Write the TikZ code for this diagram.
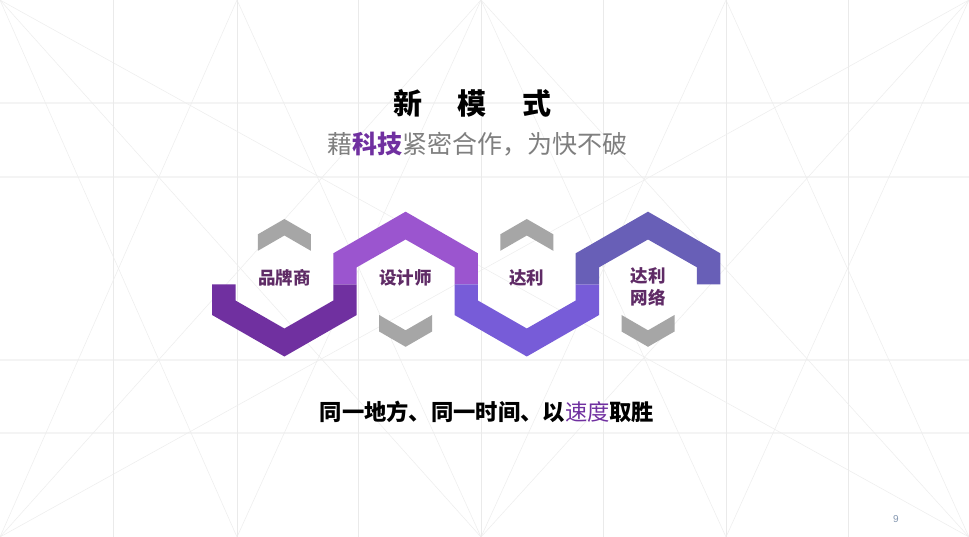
\documentclass[tikz,border=0pt]{standalone}
\usepackage{fontspec}
\setmainfont{Noto Sans CJK SC}
\newfontfamily\latinfont{Liberation Sans}
\definecolor{purpA}{HTML}{7030A0}
\definecolor{purpB}{HTML}{9B55CF}
\definecolor{purpC}{HTML}{775CD8}
\definecolor{purpD}{HTML}{685FB7}
\definecolor{chev}{HTML}{A6A6A6}
\definecolor{lbl}{HTML}{5F2B66}
\definecolor{subgray}{HTML}{7F7F7F}
\definecolor{vline}{HTML}{EAEAEA}
\definecolor{hline}{HTML}{F4F4F4}
\definecolor{dline}{HTML}{EDEDED}
\definecolor{pagenum}{HTML}{8497B0}
\tikzset{
  bgv/.style={draw=vline, line width=0.6pt},
  bgh/.style={draw=hline, line width=1.6pt},
  bgd/.style={draw=dline, line width=0.5pt},
  chevron/.style={fill=chev, draw=none},
  lab/.style={text=lbl, font=\fontsize{17.5pt}{22pt}\selectfont\bfseries, align=center, inner sep=0pt},
}
\begin{document}
\begin{tikzpicture}[x=1pt,y=-1pt]
\useasboundingbox (0,0) rectangle (969,537);
\fill[white] (0,0) rectangle (969,537);
% background grid
\foreach \y in {103,177,360,433} \draw[bgh] (0,\y) -- (969,\y);
\foreach \x in {113,237,358,481,603,726,848} \draw[bgv] (\x,0) -- (\x,537);
\foreach \a/\b in {0/237,237/0,237/481,481/237,481/726,726/481,726/969,969/726,0/481,481/0,481/969,969/481,0/969,969/0}
  \draw[bgd] (\a,0) -- (\b,537);
% snake bands
\fill[purpA] (212.1,284.3) -- (212.1,315) -- (284.4,356.5) -- (356.7,315) -- (356.7,284.3) -- (333.3,284.3) -- (333.3,300.5) -- (284.4,328.5) -- (235.5,300.5) -- (235.5,284.3) -- cycle;
\fill[purpB] (333.3,284.3) -- (333.3,253.3) -- (405.6,211.7) -- (477.9,253.3) -- (477.9,284.3) -- (454.5,284.3) -- (454.5,267.3) -- (405.6,239.5) -- (356.7,267.3) -- (356.7,284.3) -- cycle;
\fill[purpC] (454.5,284.3) -- (454.5,315) -- (526.8,356.5) -- (599.1,315) -- (599.1,284.3) -- (575.7,284.3) -- (575.7,300.5) -- (526.8,328.5) -- (477.9,300.5) -- (477.9,284.3) -- cycle;
\fill[purpD] (575.7,284.3) -- (575.7,253.3) -- (648.0,211.7) -- (720.3,253.3) -- (720.3,284.3) -- (696.9,284.3) -- (696.9,267.3) -- (648.0,239.5) -- (599.1,267.3) -- (599.1,284.3) -- cycle;
% chevrons
\foreach \c in {284.4,526.8}
  \fill[chevron] (\c-26.5,250.8) -- (\c-26.5,234.3) -- (\c,219) -- (\c+26.5,234.3) -- (\c+26.5,250.8) -- (\c,235.5) -- cycle;
\foreach \c in {405.6,648.0}
  \fill[chevron] (\c-26.5,315) -- (\c-26.5,331.5) -- (\c,346.8) -- (\c+26.5,331.5) -- (\c+26.5,315) -- (\c,330.3) -- cycle;
% labels
\node[lab] (l1) at (284.4,278) {品牌商};
\node[lab] (l2) at (405.6,278) {设计师};
\node[lab] (l3) at (526.8,278) {达利};
\node[lab] (l4) at (648.0,287) {达利\\网络};
% titles
\node[font=\fontsize{29pt}{34pt}\selectfont\bfseries, inner sep=0pt] (title) at (472.5,103) {新\hspace{36pt}模\hspace{36pt}式};
\node[font=\fontsize{25pt}{30pt}\selectfont, text=subgray, inner sep=0pt] (sub) at (477.5,144) {藉{\bfseries\color{purpA}科技}紧密合作，为快不破};
\node[font=\fontsize{22.3pt}{27pt}\selectfont\bfseries, inner sep=0pt] (slogan) at (487,412) {同一地方、同一时间、以{\mdseries\color{purpA}速度}取胜};
\node[font=\latinfont\fontsize{10pt}{12pt}\selectfont, text=pagenum, inner sep=0pt] (page) at (896,519) {9};
\end{tikzpicture}
\end{document}
